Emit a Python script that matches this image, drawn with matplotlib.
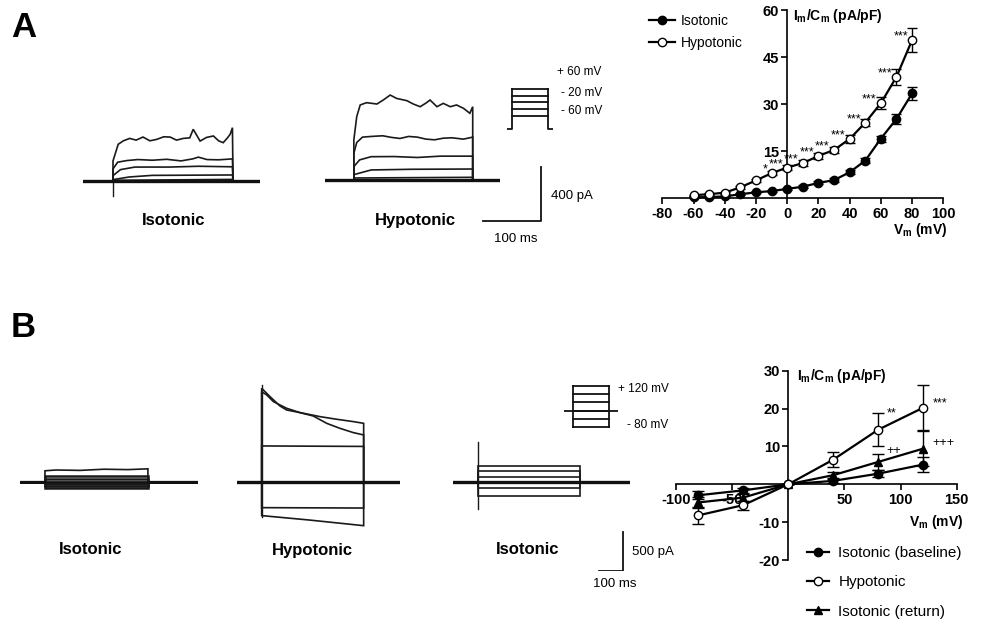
import matplotlib
matplotlib.use('Agg')
import matplotlib.pyplot as plt
from matplotlib.lines import Line2D

plt.rcParams['font.family'] = ['Liberation Sans', 'DejaVu Sans']
plt.rcParams['mathtext.fontset'] = 'custom'
plt.rcParams['mathtext.rm'] = 'Liberation Sans'
plt.rcParams['mathtext.bf'] = 'Liberation Sans:bold'
plt.rcParams['mathtext.it'] = 'Liberation Sans:italic'
plt.rcParams['axes.unicode_minus'] = False

# ---------------- DATA ----------------
# Panel A IV relation (mV, pA/pF)
A_V = [-60, -50, -40, -30, -20, -10, 0, 10, 20, 30, 40, 50, 60, 70, 80]
A_iso = [0.3, 0.4, 0.6, 1.3, 1.9, 2.3, 3.0, 3.7, 4.9, 5.8, 8.3, 12.0, 19.0, 25.3, 33.4]
A_iso_err = [0.2, 0.2, 0.2, 0.3, 0.3, 0.3, 0.4, 0.4, 0.5, 0.6, 0.7, 0.9, 1.0, 1.5, 2.0]
A_hyp = [1.0, 1.3, 1.8, 3.5, 5.7, 8.0, 9.8, 11.2, 13.5, 15.4, 18.9, 24.1, 30.3, 38.7, 50.4]
A_hyp_err = [0.2, 0.3, 0.3, 0.4, 0.5, 0.6, 0.8, 1.0, 1.0, 1.0, 1.2, 1.2, 2.0, 2.5, 3.8]
A_sig_V = [-10, 0, 10, 20, 30, 40, 50, 60, 70, 80]
A_sig = ['*', '***', '***', '***', '***', '***', '***', '***', '***', '***']

# Panel B IV relation
B_V = [-80, -40, 0, 40, 80, 120]
B_base = [-2.9, -1.6, 0.0, 0.9, 2.8, 5.2]
B_base_err = [1.0, 0.6, 0.0, 0.5, 1.0, 2.0]
B_hyp = [-8.2, -5.5, 0.0, 6.5, 14.4, 20.2]
B_hyp_err = [2.2, 1.2, 0.0, 2.0, 4.3, 5.9]
B_ret = [-4.8, -3.5, 0.0, 2.4, 5.9, 9.4]
B_ret_err = [1.5, 1.0, 0.0, 0.8, 2.2, 4.7]
B_sig_series = ['hyp', 'hyp', 'ret', 'ret']
B_sig_V = [80, 120, 80, 120]
B_sig = ['**', '***', '++', '+++']

# Panel A current traces (ms, pA)
A_iso_on, A_iso_off, A_iso_end = 52, 260, 307
A_iso_traces = [
    ([52, 61, 70, 81, 92, 104, 116, 128, 140, 151, 162, 174, 185, 191, 203, 214, 226, 235, 243, 250, 255, 259],
     [150, 274, 300, 318, 305, 328, 300, 311, 330, 328, 305, 318, 322, 386, 298, 325, 336, 300, 286, 320, 348, 398]),
    ([52, 60, 75, 95, 120, 145, 170, 190, 200, 215, 235, 259],
     [90, 140, 152, 160, 155, 162, 150, 165, 178, 160, 158, 165]),
    ([52, 65, 90, 150, 200, 259], [40, 85, 104, 104, 110, 106]),
    ([52, 80, 120, 259], [10, 30, 42, 45]),
    ([52, 259], [5, 12]),
]
A_iso_transient = [-112, 0]

A_hyp_on, A_hyp_off, A_hyp_end = 50, 256, 303
A_hyp_traces = [
    ([50, 55, 61, 72, 90, 101, 113, 124, 142, 153, 165, 176, 182, 194, 205, 217, 228, 240, 251, 256],
     [300, 473, 560, 577, 567, 597, 634, 609, 592, 567, 547, 577, 597, 547, 572, 547, 560, 535, 498, 547]),
    ([50, 55, 65, 80, 100, 115, 130, 145, 160, 175, 190, 205, 220, 240, 256],
     [200, 280, 320, 325, 330, 318, 310, 325, 320, 305, 300, 312, 315, 305, 320]),
    ([50, 60, 80, 120, 160, 200, 256], [100, 150, 174, 175, 168, 178, 178]),
    ([50, 80, 150, 256], [40, 75, 80, 82]),
    ([50, 256], [15, 20]),
]

# Panel B current traces (ms, pA)
B_iso_on, B_iso_off, B_iso_end = 104, 533, 742
B_iso_levels = [150, 77, 38, -26, -51, -77]
B_iso_top_t = [104, 150, 250, 350, 450, 533]
B_iso_top_i = [140, 150, 145, 160, 155, 165]

B_hyp_on, B_hyp_off, B_hyp_end = 104, 529, 680
B_hyp_traces = [
    ([104, 139, 180, 208, 278, 347, 417, 486, 529], [1205, 1098, 979, 927, 885, 842, 808, 778, 756]),
    ([104, 125, 153, 208, 264, 319, 375, 430, 486, 529], [1162, 1120, 1034, 949, 893, 850, 756, 692, 637, 607]),
    ([104, 529], [466, 460]),
    ([104, 529], [-325, -330]),
    ([104, 300, 529], [-427, -483, -556]),
]
B_hyp_transient = [-440, 1248]

B_ret_on, B_ret_off, B_ret_end = 105, 529, 737
B_ret_levels = [213, 149, 72, -77, -172]
B_ret_transient = [-346, 521]

# Protocols (mV)
PA_hold, PA_steps = -60, [-20, 0, 20, 40, 60]
PB_hold, PB_steps = 0, [-80, -40, 0, 40, 80, 120]

# Scale bars
SA_ms, SA_pA = 100, 400
SB_ms, SB_pA = 100, 500

# ---------------- FIGURE ----------------
W, H = 983, 624
fig = plt.figure(figsize=(W / 100, H / 100), dpi=100)
TR = '#1a1a1a'


def px_axes(left, top, right, bottom):
    return fig.add_axes([left / W, 1 - bottom / H, (right - left) / W, (bottom - top) / H])


def unit_axes(x0, y0, sx, sy, xlim, ylim):
    left = x0 + xlim[0] * sx
    right = x0 + xlim[1] * sx
    top = y0 - ylim[1] * sy
    bottom = y0 - ylim[0] * sy
    ax = px_axes(left, top, right, bottom)
    ax.set_xlim(xlim)
    ax.set_ylim(ylim)
    ax.axis('off')
    return ax


def draw_trace(ax, on, off, end, tt, ii, lw=1.2):
    t = [0, on] + list(tt) + [off, end]
    i = [0, 0] + list(ii) + [0, 0]
    ax.plot(t, i, color=TR, lw=lw, solid_joinstyle='miter')


def fpx(x, y):
    return x / W, 1 - y / H


# ---- Panel A traces ----
sxA, syA = 0.577, 0.134
ax = unit_axes(83, 181, sxA, syA, (0, A_iso_end), (-150, 450))
for tt, ii in A_iso_traces:
    draw_trace(ax, A_iso_on, A_iso_off, A_iso_end, tt, ii)
ax.plot([A_iso_on, A_iso_on], A_iso_transient, color=TR, lw=1.0)
ax.plot([0, A_iso_end], [0, 0], color='#111', lw=2.4)

ax = unit_axes(325, 180, sxA, syA, (0, A_hyp_end), (-150, 700))
for tt, ii in A_hyp_traces:
    draw_trace(ax, A_hyp_on, A_hyp_off, A_hyp_end, tt, ii)
ax.plot([0, A_hyp_end], [0, 0], color='#111', lw=2.4)

# scale bar A
ax = unit_axes(541, 221, sxA, syA, (-110, 5), (-5, 420))
ax.plot([-SA_ms, 0, 0], [0, 0, SA_pA], color='#111', lw=1.3)
fig.text(*fpx(551, 196), f'{SA_pA} pA', fontsize=9.5, va='center', ha='left')
fig.text(*fpx(516, 239), f'{SA_ms} ms', fontsize=9.5, va='center', ha='center')

# protocol A
ax = unit_axes(507, 109, 1.0, 0.333, (0, 46), (-70, 65))
ax.plot([0, 5, 5], [PA_hold, PA_hold, max(PA_steps)], color='#111', lw=1.3)
ax.plot([41, 41, 46], [max(PA_steps), PA_hold, PA_hold], color='#111', lw=1.3)
for s in PA_steps:
    ax.plot([5, 41], [s, s], color='#111', lw=1.3)
fig.text(*fpx(557, 72), '+ 60 mV', fontsize=8.5, va='center')
fig.text(*fpx(561, 93), '- 20 mV', fontsize=8.5, va='center')
fig.text(*fpx(561, 111), '- 60 mV', fontsize=8.5, va='center')

fig.text(*fpx(174, 220), 'Isotonic', fontsize=12, weight='bold', ha='center', va='center')
fig.text(*fpx(415, 220), 'Hypotonic', fontsize=12, weight='bold', ha='center', va='center')
fig.text(*fpx(11, 37), 'A', fontsize=25, weight='bold', ha='left', va='baseline')
fig.text(*fpx(11, 337), 'B', fontsize=25, weight='bold', ha='left', va='baseline')

# ---- Panel B traces ----
sxB, syB = 0.24, 0.078
ax = unit_axes(20, 481.7, sxB, syB, (0, B_iso_end), (-200, 300))
draw_trace(ax, B_iso_on, B_iso_off, B_iso_end, B_iso_top_t, B_iso_top_i)
for L in B_iso_levels[1:]:
    draw_trace(ax, B_iso_on, B_iso_off, B_iso_end, [B_iso_on, B_iso_off], [L, L], lw=1.8)
ax.plot([0, B_iso_end], [0, 0], color='#111', lw=2.0)

ax = unit_axes(236.7, 482.3, sxB, syB, (0, B_hyp_end), (-700, 1400))
for tt, ii in B_hyp_traces:
    draw_trace(ax, B_hyp_on, B_hyp_off, B_hyp_end, tt, ii)
ax.plot([B_hyp_on, B_hyp_on], B_hyp_transient, color=TR, lw=1.0)
ax.plot([0, B_hyp_end], [0, 0], color='#111', lw=2.4)

ax = unit_axes(453, 482.3, sxB, syB, (0, B_ret_end), (-400, 600))
for L in B_ret_levels:
    draw_trace(ax, B_ret_on, B_ret_off, B_ret_end, [B_ret_on, B_ret_off], [L, L])
ax.plot([B_ret_on, B_ret_on], B_ret_transient, color=TR, lw=1.0)
ax.plot([0, B_ret_end], [0, 0], color='#111', lw=2.4)

# scale bar B
ax = unit_axes(623, 571, sxB, syB, (-110, 5), (-5, 520))
ax.plot([-SB_ms, 0, 0], [0, 0, SB_pA], color='#111', lw=1.3)
fig.text(*fpx(632, 552), f'{SB_pA} pA', fontsize=9.5, va='center', ha='left')
fig.text(*fpx(615, 584), f'{SB_ms} ms', fontsize=9.5, va='center', ha='center')

# protocol B
ax = unit_axes(564, 410.7, 1.0, 0.208, (0, 54.3), (-90, 130))
ax.plot([8.7, 8.7], [min(PB_steps), max(PB_steps)], color='#111', lw=1.3)
ax.plot([45, 45], [min(PB_steps), max(PB_steps)], color='#111', lw=1.3)
for s in PB_steps:
    ax.plot([8.7, 45], [s, s], color='#111', lw=1.3)
ax.plot([0, 54.3], [PB_hold, PB_hold], color='#111', lw=1.3)
fig.text(*fpx(618, 389), '+ 120 mV', fontsize=8.5, va='center')
fig.text(*fpx(627, 425), '- 80 mV', fontsize=8.5, va='center')

fig.text(*fpx(91, 550), 'Isotonic', fontsize=12, weight='bold', ha='center', va='center')
fig.text(*fpx(312, 550), 'Hypotonic', fontsize=12, weight='bold', ha='center', va='center')
fig.text(*fpx(528, 550), 'Isotonic', fontsize=12, weight='bold', ha='center', va='center')


# ---- IV plots ----
def style_iv(ax):
    for s in ['top', 'right']:
        ax.spines[s].set_visible(False)
    ax.spines['left'].set_position(('data', 0))
    ax.spines['bottom'].set_position(('data', 0))
    for s in ['left', 'bottom']:
        ax.spines[s].set_linewidth(1.2)
    ax.tick_params(width=1.2, length=4, labelsize=10.5, pad=2)
    ax.patch.set_visible(False)


axA = px_axes(662.3, 10, 943.3, 198.3)
axA.set_xlim(-80, 100)
axA.set_ylim(0, 60)
style_iv(axA)
axA.set_xticks(range(-80, 101, 20))
axA.set_yticks([15, 30, 45, 60])
plt.setp(axA.get_xticklabels(), fontweight='bold')
plt.setp(axA.get_yticklabels(), fontweight='bold')
axA.errorbar(A_V, A_iso, yerr=A_iso_err, fmt='-o', color='k', mfc='k', mec='k', ms=6, lw=1.6,
             elinewidth=1, capsize=3.5, capthick=1, clip_on=False, zorder=3)
axA.errorbar(A_V, A_hyp, yerr=A_hyp_err, fmt='-o', color='k', mfc='white', mec='k', ms=6, mew=1,
             lw=1.6, elinewidth=1, capsize=3.5, capthick=1, clip_on=False, zorder=4)
for v, s in zip(A_sig_V, A_sig):
    y = A_hyp[A_V.index(v)]
    axA.annotate(s, (v, y), xytext=(-3, 2.5), textcoords='offset points', ha='right', va='center',
                 fontsize=9)
fig.text(*fpx(793, 16), r'$\mathbf{I_m/C_m}$ (pA/pF)', fontsize=10, weight='bold', va='center')
fig.text(*fpx(947, 230), r'$\mathbf{V_m}$ (mV)', fontsize=10, weight='bold', va='center', ha='right')

hA = [Line2D([], [], color='k', marker='o', ms=6, mfc='k', lw=1.6),
      Line2D([], [], color='k', marker='o', ms=6, mfc='white', lw=1.6)]
fig.legend(hA, ['Isotonic', 'Hypotonic'], loc='upper left', bbox_to_anchor=fpx(649, 14),
           frameon=False, fontsize=10, handlelength=1.9, handletextpad=0.4, labelspacing=0.6,
           borderpad=0, borderaxespad=0)

axB = px_axes(676, 370.7, 956.7, 560)
axB.set_xlim(-100, 150)
axB.set_ylim(-20, 30)
style_iv(axB)
axB.set_xticks([-100, -50, 0, 50, 100, 150])
axB.set_xticklabels(['-100', '-50', '', '50', '100', '150'])
axB.set_yticks([-20, -10, 10, 20, 30])
plt.setp(axB.get_xticklabels(), fontweight='bold')
plt.setp(axB.get_yticklabels(), fontweight='bold')
series_B = {'base': (B_base, B_base_err, 'o', 'k'), 'hyp': (B_hyp, B_hyp_err, 'o', 'white'),
            'ret': (B_ret, B_ret_err, '^', 'k')}
for key in ['base', 'ret', 'hyp']:
    vals, err, mk, fc = series_B[key]
    axB.errorbar(B_V, vals, yerr=err, fmt='-' + mk, color='k', mfc=fc, mec='k', ms=6, mew=1,
                 lw=1.6, elinewidth=1, capsize=4.5, capthick=1, clip_on=False, zorder=3)
sig_offsets = [(6, 12), (7, 3), (6, 8), (7, 4)]
for key, v, s, off in zip(B_sig_series, B_sig_V, B_sig, sig_offsets):
    vals = series_B[key][0]
    y = vals[B_V.index(v)]
    axB.annotate(s, (v, y), xytext=off, textcoords='offset points', ha='left', va='center',
                 fontsize=9)
fig.text(*fpx(797, 376), r'$\mathbf{I_m/C_m}$ (pA/pF)', fontsize=10, weight='bold', va='center')
fig.text(*fpx(963, 522), r'$\mathbf{V_m}$ (mV)', fontsize=10, weight='bold', va='center', ha='right')

hB = [Line2D([], [], color='k', marker='o', ms=6, mfc='k', lw=1.6),
      Line2D([], [], color='k', marker='o', ms=6, mfc='white', lw=1.6),
      Line2D([], [], color='k', marker='^', ms=6, mfc='k', lw=1.6)]
fig.legend(hB, ['Isotonic (baseline)', 'Hypotonic', 'Isotonic (return)'], loc='upper left',
           bbox_to_anchor=fpx(807, 546), frameon=False, fontsize=11, handlelength=1.45,
           handletextpad=0.6, labelspacing=1.0, borderpad=0, borderaxespad=0)

fig.savefig('out.png', dpi=100)
